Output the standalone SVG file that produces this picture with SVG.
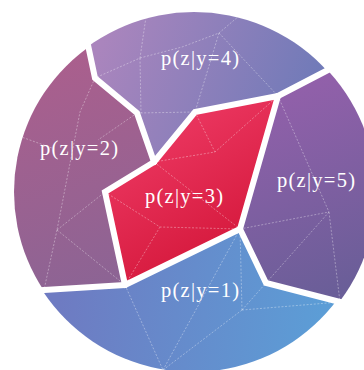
<svg xmlns="http://www.w3.org/2000/svg" width="364" height="370" viewBox="0 0 364 370">
<defs>
<style>
.border{fill:none;stroke:#fff;stroke-width:6;stroke-linejoin:miter;stroke-linecap:round}
.dash{fill:none;stroke:#fff;stroke-opacity:0.5;stroke-width:0.7;stroke-dasharray:2 1.6}
.lbl{fill:#fff;font-family:"Liberation Serif","Times New Roman",serif;font-size:20.5px;text-anchor:middle}
</style>
<clipPath id="c4"><circle cx="194" cy="192" r="180"/></clipPath>
<clipPath id="c2"><circle cx="192" cy="192" r="178"/></clipPath>
<clipPath id="c3"><circle cx="192" cy="192" r="178"/></clipPath>
<clipPath id="c5"><circle cx="196" cy="193" r="180"/></clipPath>
<clipPath id="c1"><circle cx="193" cy="192" r="180"/></clipPath>
<linearGradient id="g4" gradientUnits="userSpaceOnUse" x1="110" y1="20" x2="320" y2="100"><stop offset="0" stop-color="#aa85bd"/><stop offset="1" stop-color="#6e7ab8"/></linearGradient>
<linearGradient id="g2" gradientUnits="userSpaceOnUse" x1="40" y1="60" x2="110" y2="285"><stop offset="0" stop-color="#ab5f8d"/><stop offset="1" stop-color="#8c6494"/></linearGradient>
<linearGradient id="g3" gradientUnits="userSpaceOnUse" x1="170" y1="110" x2="250" y2="250"><stop offset="0" stop-color="#ec3862"/><stop offset="1" stop-color="#d4173a"/></linearGradient>
<linearGradient id="g5" gradientUnits="userSpaceOnUse" x1="280" y1="90" x2="355" y2="285"><stop offset="0" stop-color="#9260aa"/><stop offset="1" stop-color="#6a5e98"/></linearGradient>
<linearGradient id="g1" gradientUnits="userSpaceOnUse" x1="60" y1="300" x2="320" y2="330"><stop offset="0" stop-color="#6e7bc2"/><stop offset="1" stop-color="#5c9dd6"/></linearGradient>
</defs>
<g id="region4" clip-path="url(#c4)">
<polygon fill="url(#g4)" points="80,8 88,45 95,78 137,113 154,162 195,112 278,96 328,70 360,53 380,40 380,-20 80,-20"/>
<polyline class="dash" points="147,10 140,58 95,78"/>
<polyline class="dash" points="140,58 182,47 219,33 246,10"/>
<line class="dash" x1="219" y1="33" x2="278" y2="96"/>
<line class="dash" x1="219" y1="33" x2="195" y2="112"/>
<line class="dash" x1="140" y1="58" x2="141" y2="113"/>
<line class="dash" x1="137" y1="113" x2="195" y2="112"/>
<text class="lbl" x="200" y="65" textLength="78" lengthAdjust="spacing">p(z|y=4)</text>
</g>
<g id="region2" clip-path="url(#c2)">
<polygon fill="url(#g2)" points="80,8 88,45 95,78 137,113 154,162 105,192 125,285 44,290 0,293 -20,293 -20,8"/>
<polyline class="dash" points="95,78 80,112 57,230"/>
<line class="dash" x1="16" y1="135" x2="52" y2="148"/>
<line class="dash" x1="137" y1="113" x2="98" y2="140"/>
<line class="dash" x1="57" y1="230" x2="105" y2="192"/>
<line class="dash" x1="57" y1="230" x2="125" y2="285"/>
<line class="dash" x1="57" y1="230" x2="44" y2="290"/>
<text class="lbl" x="79" y="155" textLength="78" lengthAdjust="spacing">p(z|y=2)</text>
</g>
<g id="region3" clip-path="url(#c3)">
<polygon fill="url(#g3)" points="154,162 195,112 278,96 240,229 125,285 105,192"/>
<polyline class="dash" points="105,192 160,227 240,229"/>
<line class="dash" x1="160" y1="227" x2="125" y2="285"/>
<polyline class="dash" points="154,162 215,152 278,96"/>
<line class="dash" x1="195" y1="112" x2="215" y2="152"/>
<line class="dash" x1="154" y1="162" x2="240" y2="229"/>
<text class="lbl" x="184" y="203" textLength="78" lengthAdjust="spacing">p(z|y=3)</text>
</g>
<g id="region5" clip-path="url(#c5)">
<polygon fill="url(#g5)" points="360,53 328,70 278,96 240,229 266,283 340,302 390,315 390,40"/>
<line class="dash" x1="278" y1="96" x2="329" y2="212"/>
<line class="dash" x1="240" y1="229" x2="329" y2="212"/>
<line class="dash" x1="329" y1="212" x2="266" y2="283"/>
<line class="dash" x1="329" y1="212" x2="340" y2="302"/>
<text class="lbl" x="316" y="187" textLength="78" lengthAdjust="spacing">p(z|y=5)</text>
</g>
<g id="region1" clip-path="url(#c1)">
<polygon fill="url(#g1)" points="0,293 44,290 125,285 240,229 266,283 340,302 390,315 390,400 -20,400 -20,293"/>
<line class="dash" x1="240" y1="229" x2="242" y2="310"/>
<line class="dash" x1="242" y1="310" x2="340" y2="302"/>
<line class="dash" x1="242" y1="310" x2="266" y2="283"/>
<line class="dash" x1="242" y1="310" x2="163" y2="370"/>
<line class="dash" x1="125" y1="285" x2="163" y2="370"/>
<line class="dash" x1="163" y1="370" x2="240" y2="229"/>
<text class="lbl" x="200" y="297" textLength="78" lengthAdjust="spacing">p(z|y=1)</text>
</g>
<g id="connectors">
<polyline class="border" points="82,15 88,45 95,78 137,113 154,162"/>
<polyline class="border" points="154,162 195,112 278,96"/>
<polyline class="border" points="278,96 328,70 345,61"/>
<polyline class="border" points="278,96 240,229"/>
<polyline class="border" points="240,229 266,283 340,302 355,306"/>
<polyline class="border" points="154,162 105,192 125,285"/>
<polyline class="border" points="125,285 240,229"/>
<polyline class="border" points="125,285 44,290 25,291"/>
</g>
</svg>
